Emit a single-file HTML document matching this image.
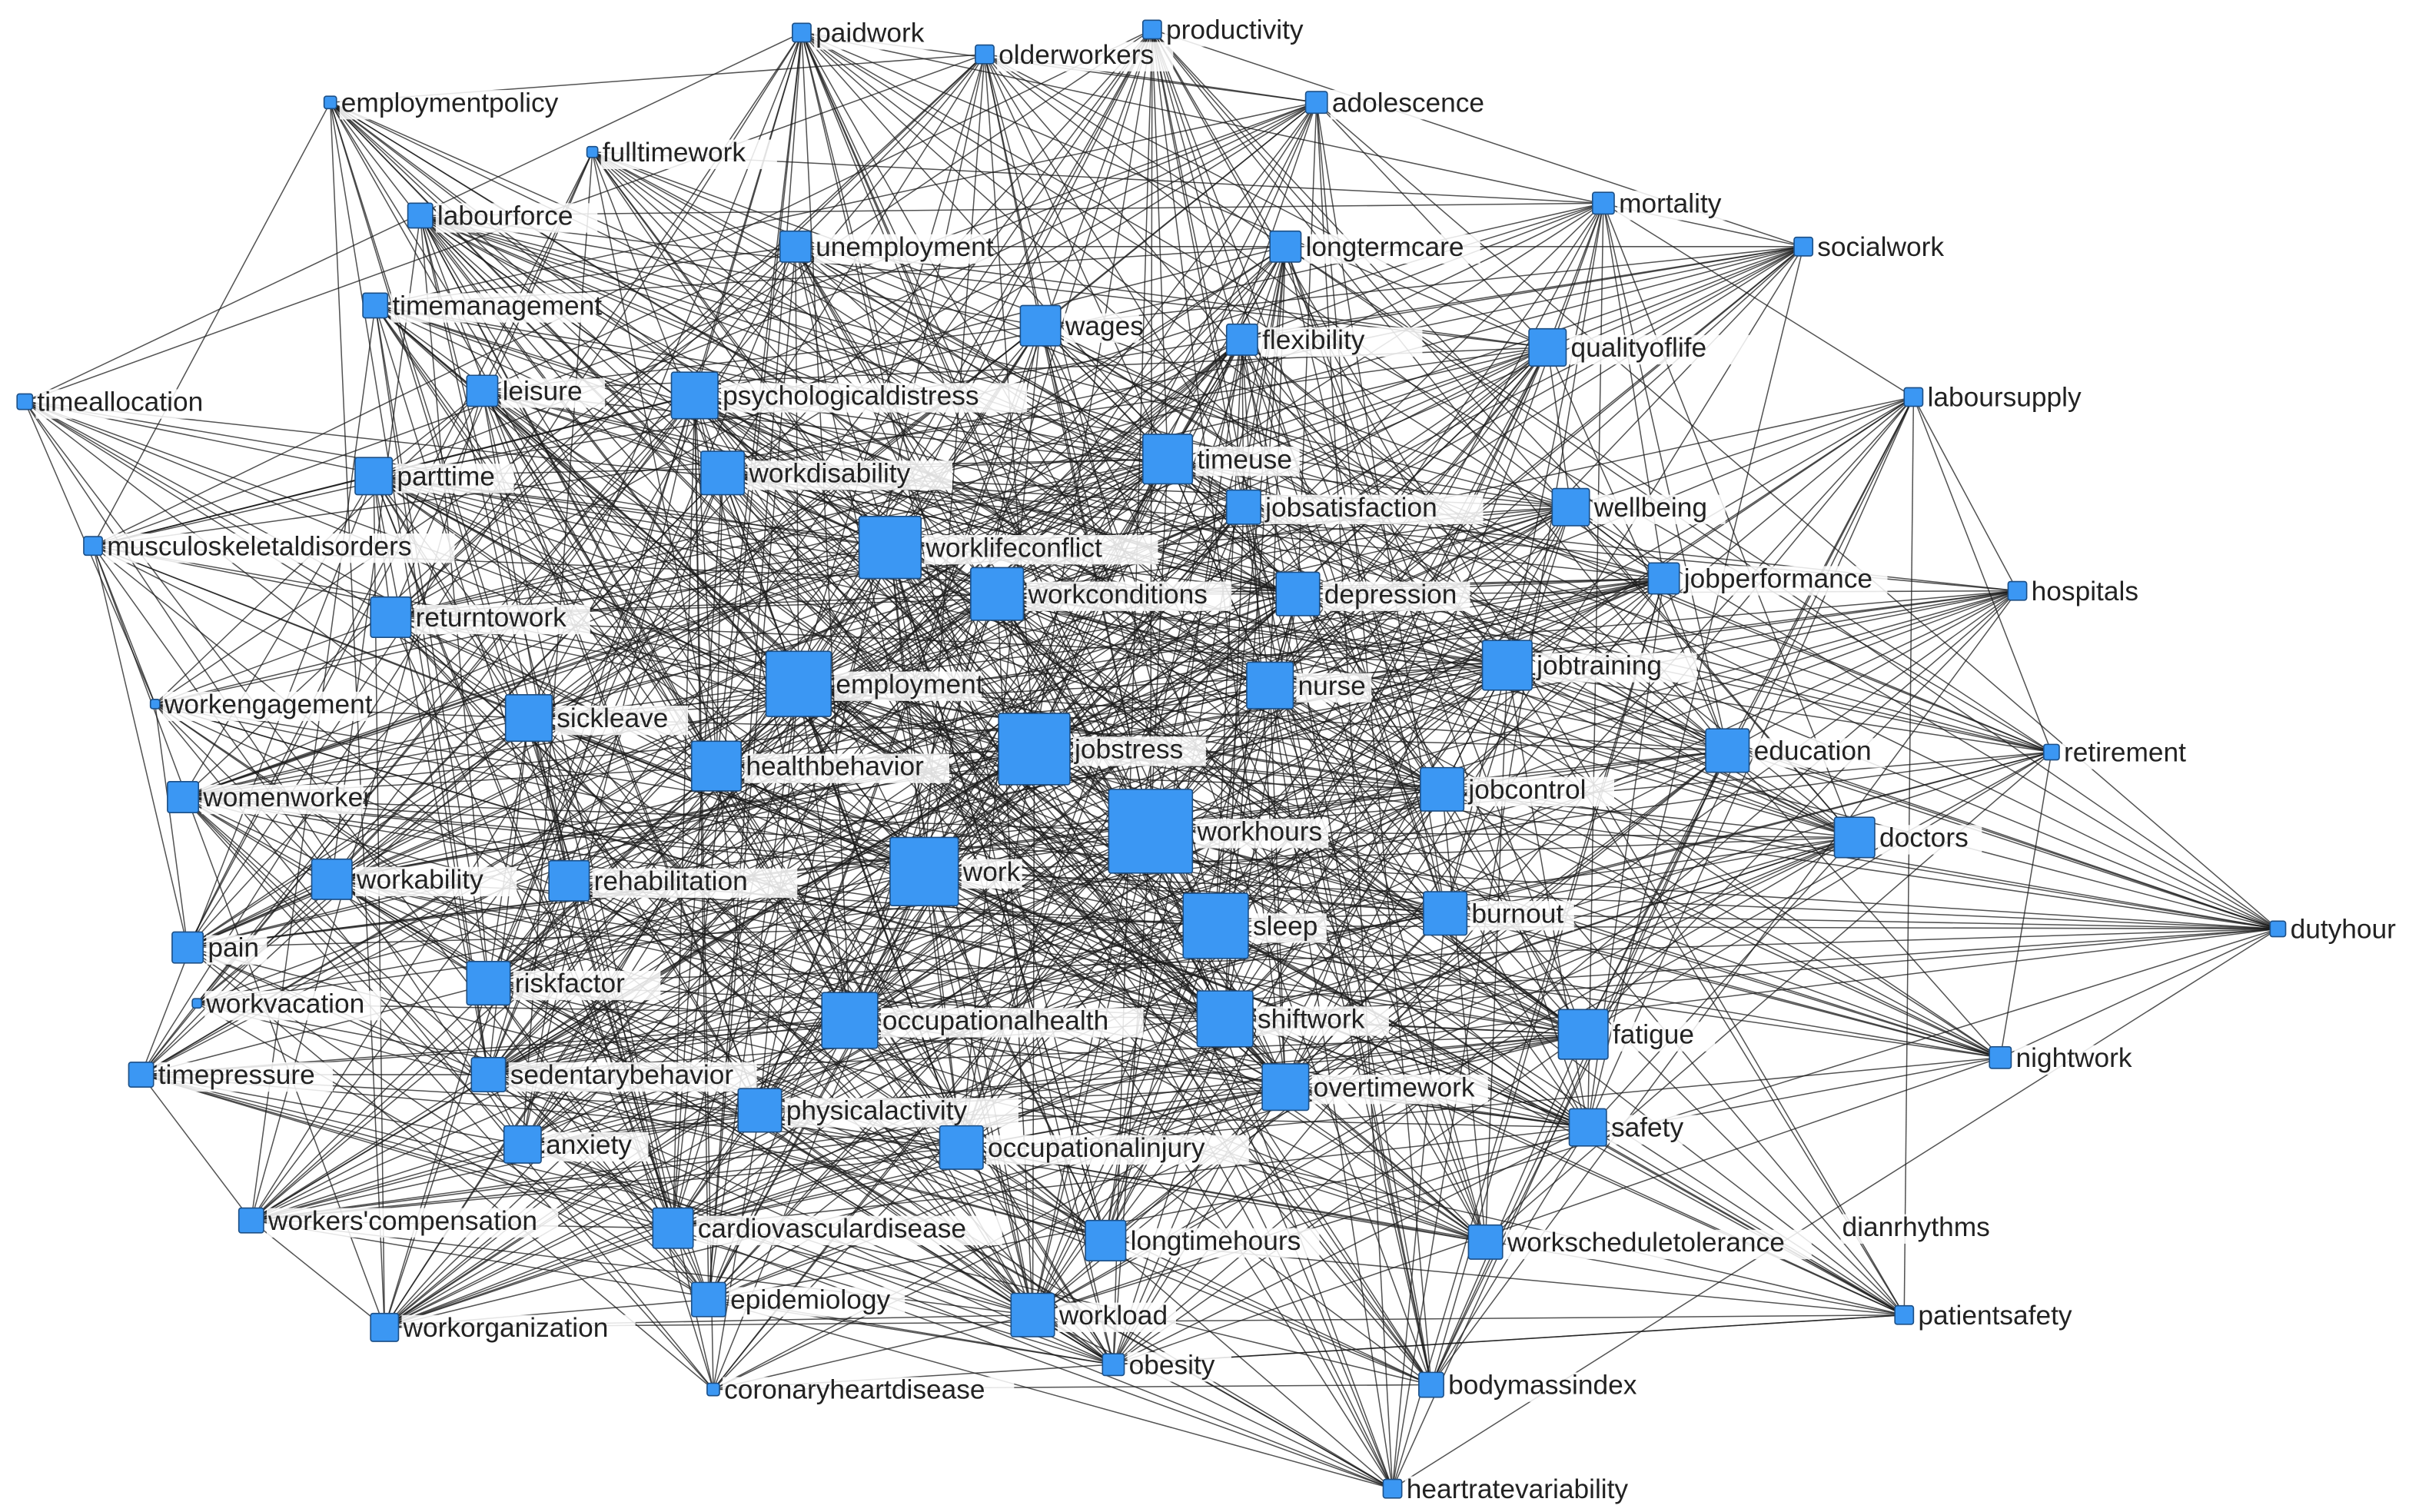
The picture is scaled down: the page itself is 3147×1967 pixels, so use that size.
<!DOCTYPE html>
<html><head><meta charset="utf-8">
<style>
html,body{margin:0;padding:0;background:#fff;}
svg{display:block;}
text{font-family:"Liberation Sans","DejaVu Sans",sans-serif;font-size:17.5px;fill:#222;}
</style></head>
<body>
<svg id="g" width="3147" height="1967" viewBox="0 0 1560 975" xmlns="http://www.w3.org/2000/svg">
<g id="edges" stroke="#1a1a1a" stroke-width="0.75" stroke-opacity="0.75"></g>
<g id="labels"></g>
<g id="nodes"></g>
</svg>
<script>
var N=[
["paidwork",517,21,12],["olderworkers",635,35,12],["productivity",743,19,12],["employmentpolicy",213,66,8],
["adolescence",849,66,14],["fulltimework",382,98,7],["labourforce",271,139,16],["unemployment",513,159,20],
["longtermcare",829,159,20],["mortality",1034,131,14],["socialwork",1163,159,12],["timemanagement",242,197,16],
["wages",671,210,26],["flexibility",801,219,20],["qualityoflife",998,224,24],["timeallocation",16,259,10],
["leisure",311,252,20],["psychologicaldistress",448,255,30],["laboursupply",1234,256,12],["parttime",241,307,24],
["workdisability",466,305,28],["timeuse",753,296,32],["jobsatisfaction",802,327,22],["wellbeing",1013,327,24],
["musculoskeletaldisorders",60,352,12],["worklifeconflict",574,353,40],["workconditions",643,383,34],
["depression",837,383,28],["jobperformance",1073,373,20],["hospitals",1301,381,12],["returntowork",252,398,26],
["jobtraining",972,429,32],["employment",515,441,42],["nurse",819,442,30],["workengagement",100,454,6],
["sickleave",341,463,30],["jobstress",667,483,46],["healthbehavior",462,494,32],["education",1114,484,28],
["retirement",1323,485,10],["womenworker",118,514,20],["workhours",742,536,54],["jobcontrol",930,509,28],
["doctors",1196,540,26],["work",596,562,44],["workability",214,567,26],["rehabilitation",367,568,26],
["sleep",784,597,42],["burnout",932,589,28],["dutyhour",1469,599,10],["pain",121,611,20],["riskfactor",315,634,28],
["workvacation",127,647,6],["occupationalhealth",548,658,36],["shiftwork",790,657,36],["fatigue",1021,667,32],
["nightwork",1290,682,14],["timepressure",91,693,16],["sedentarybehavior",315,693,22],["overtimework",829,701,30],
["physicalactivity",490,716,28],["safety",1024,727,24],["anxiety",337,738,24],["occupationalinjury",620,740,28],
["workers'compensation",162,787,16],["cardiovasculardisease",434,792,26],["longtimehours",713,800,26],
["workscheduletolerance",958,801,22],["patientsafety",1228,848,12],["epidemiology",457,838,22],
["workload",666,848,28],["workorganization",248,856,18],["obesity",718,880,14],["bodymassindex",923,893,16],
["coronaryheartdisease",460,896,8],["heartratevariability",898,960,12]
];
var seed=12345;function rnd(){seed=(seed*1103515245+12345)%2147483648;return seed/2147483648;}
var ns="http://www.w3.org/2000/svg";
var E=document.getElementById("edges"),L=document.getElementById("labels"),ND=document.getElementById("nodes");
function el(t,a,p){var e=document.createElementNS(ns,t);for(var k in a)e.setAttribute(k,a[k]);p.appendChild(e);return e;}
var seen={};
for(var i=0;i<N.length;i++){
  var k=Math.round(N[i][3]*0.55)+4;
  for(var j=0;j<k;j++){
    var t=Math.floor(rnd()*N.length);
    if(rnd()<0.5){var w=0,tot=0;for(var q=0;q<N.length;q++)tot+=N[q][3];var r=rnd()*tot;for(q=0;q<N.length;q++){r-=N[q][3];if(r<=0){t=q;break;}}}
    if(t==i)continue;var key=Math.min(i,t)+"_"+Math.max(i,t);if(seen[key])continue;seen[key]=1;
    el("line",{x1:N[i][1],y1:N[i][2],x2:N[t][1],y2:N[t][2]},E);
  }
}
function lab(s,x,y){el("rect",{x:x-1,y:y-14,width:s.length*9.3+2,height:19,fill:"#fff","fill-opacity":0.85},L);var tx=el("text",{x:x,y:y},L);tx.textContent=s;}
for(i=0;i<N.length;i++){
  var n=N[i],h=n[3]/2;
  el("rect",{x:n[1]-h,y:n[2]-h,width:n[3],height:n[3],fill:"#3b97f3",stroke:"#1c4f86","stroke-width":0.8,rx:1.5},ND);
  lab(n[0],n[1]+h+3,n[2]+6);
}
lab("dianrhythms",1188,797);
</script>
</body></html>
